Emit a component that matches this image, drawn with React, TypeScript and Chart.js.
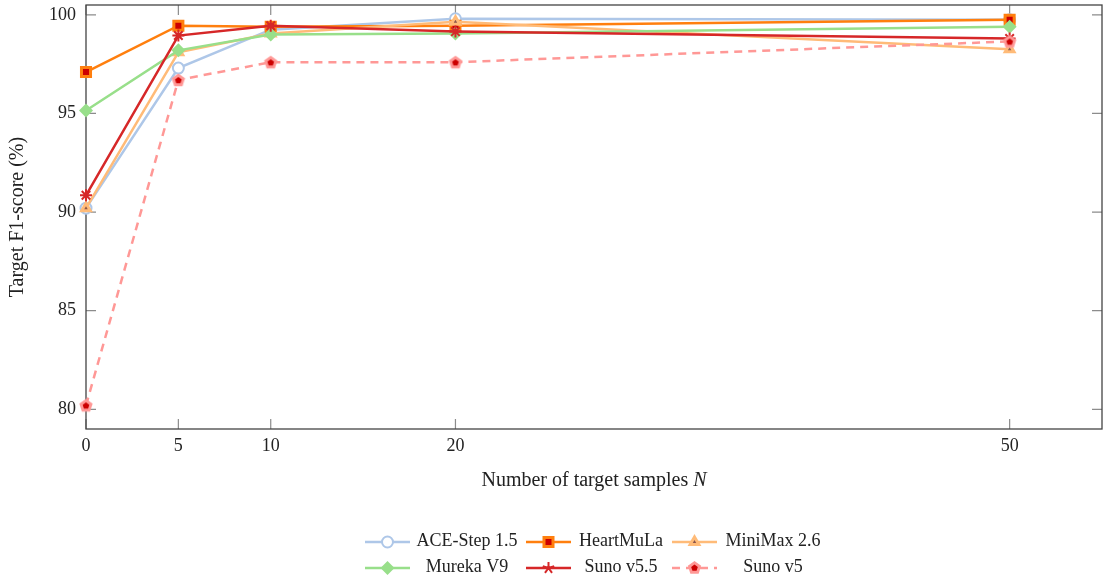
import React, { useEffect, useRef } from "react";
import { Chart, registerables } from "chart.js";
Chart.register(...registerables);

const xValues = [0, 5, 10, 20, 50];
const xTicks = [0, 5, 10, 20, 50];
const yTicks = [80, 85, 90, 95, 100];
const seriesNames = ["ACE-Step 1.5", "HeartMuLa", "MiniMax 2.6", "Mureka V9", "Suno v5.5", "Suno v5"];
const aceStep = [90.2, 97.3, 99.25, 99.8, 99.75];
const heartMuLa = [97.1, 99.45, 99.4, 99.45, 99.75];
const miniMax = [90.2, 98.1, 99.05, 99.65, 98.25];
const mureka = [95.15, 98.2, 99.0, 99.05, 99.4];
const sunoV55 = [90.85, 98.95, 99.45, 99.15, 98.8];
const sunoV5 = [80.2, 96.7, 97.6, 97.6, 98.65];
const xTitle = "Number of target samples ";
const xTitleVar = "N";
const yTitle = "Target F1-score (%)";

const FONT = '"Liberation Serif", "DejaVu Serif", serif';
const lineColors = ["#aec7e8", "#ff7f0e", "#ffbb78", "#98df8a", "#d62728", "#ff9896"];
const markerKinds = ["circle", "square", "triangle", "diamond", "star", "pentagon"];

function pentagonPath(ctx: CanvasRenderingContext2D, cx: number, cy: number, r: number) {
  ctx.beginPath();
  for (let i = 0; i < 5; i++) {
    const a = -Math.PI / 2 + (i * 2 * Math.PI) / 5;
    const px = cx + r * Math.cos(a);
    const py = cy + r * Math.sin(a);
    if (i === 0) ctx.moveTo(px, py);
    else ctx.lineTo(px, py);
  }
  ctx.closePath();
}

function drawMarker(ctx: CanvasRenderingContext2D, kind: string, x: number, y: number) {
  ctx.save();
  ctx.setLineDash([]);
  if (kind === "circle") {
    ctx.beginPath();
    ctx.arc(x, y, 5.5, 0, Math.PI * 2);
    ctx.fillStyle = "#ffffff";
    ctx.fill();
    ctx.lineWidth = 2;
    ctx.strokeStyle = "#aec7e8";
    ctx.stroke();
  } else if (kind === "square") {
    ctx.fillStyle = "#cc0000";
    ctx.strokeStyle = "#ff7f0e";
    ctx.lineWidth = 3;
    ctx.beginPath();
    ctx.rect(x - 4.5, y - 4.5, 9, 9);
    ctx.fill();
    ctx.stroke();
  } else if (kind === "triangle") {
    ctx.beginPath();
    for (let i = 0; i < 3; i++) {
      const a = -Math.PI / 2 + (i * 2 * Math.PI) / 3;
      const px = x + 5 * Math.cos(a);
      const py = y + 5 * Math.sin(a);
      if (i === 0) ctx.moveTo(px, py);
      else ctx.lineTo(px, py);
    }
    ctx.closePath();
    ctx.fillStyle = "#8c564b";
    ctx.strokeStyle = "#ffbb78";
    ctx.lineWidth = 3;
    ctx.fill();
    ctx.stroke();
  } else if (kind === "diamond") {
    ctx.beginPath();
    ctx.moveTo(x, y - 7);
    ctx.lineTo(x + 7, y);
    ctx.lineTo(x, y + 7);
    ctx.lineTo(x - 7, y);
    ctx.closePath();
    ctx.fillStyle = "#98df8a";
    ctx.fill();
  } else if (kind === "star") {
    ctx.strokeStyle = "#d62728";
    ctx.lineWidth = 2;
    ctx.beginPath();
    for (let i = 0; i < 5; i++) {
      const a = -Math.PI / 2 + (i * 2 * Math.PI) / 5;
      ctx.moveTo(x, y);
      ctx.lineTo(x + 6 * Math.cos(a), y + 6 * Math.sin(a));
    }
    ctx.stroke();
  } else if (kind === "pentagon") {
    pentagonPath(ctx, x, y, 7);
    ctx.fillStyle = "#ff9896";
    ctx.fill();
    pentagonPath(ctx, x, y, 3.5);
    ctx.fillStyle = "#cc0000";
    ctx.fill();
  }
  ctx.restore();
}

function makeImage(kind: string): HTMLCanvasElement {
  const c = document.createElement("canvas");
  c.width = 18;
  c.height = 18;
  const ctx = c.getContext("2d")!;
  drawMarker(ctx, kind, 9, 9.5);
  return c;
}

const framePlugin = {
  id: "frame",
  beforeDatasetsDraw(chart: any) {
    const { ctx, chartArea: a, scales } = chart;
    ctx.save();
    ctx.strokeStyle = "#8c8c8c";
    ctx.lineWidth = 1.2;
    ctx.beginPath();
    for (const v of xTicks) {
      const px = scales.x.getPixelForValue(v);
      ctx.moveTo(px, a.bottom);
      ctx.lineTo(px, a.bottom - 10);
      ctx.moveTo(px, a.top);
      ctx.lineTo(px, a.top + 10);
    }
    for (const v of yTicks) {
      const py = scales.y.getPixelForValue(v);
      ctx.moveTo(a.left, py);
      ctx.lineTo(a.left + 10, py);
      ctx.moveTo(a.right, py);
      ctx.lineTo(a.right - 10, py);
    }
    ctx.stroke();
    ctx.strokeStyle = "#444444";
    ctx.lineWidth = 1.3;
    ctx.strokeRect(a.left, a.top, a.right - a.left, a.bottom - a.top);
    ctx.fillStyle = "#222222";
    ctx.font = `18px ${FONT}`;
    ctx.textBaseline = "middle";
    ctx.textAlign = "center";
    for (const v of xTicks) {
      ctx.fillText(String(v), scales.x.getPixelForValue(v), a.bottom + 17);
    }
    ctx.textAlign = "right";
    for (const v of yTicks) {
      ctx.fillText(String(v), a.left - 10, scales.y.getPixelForValue(v));
    }
    ctx.restore();
  },
  afterDraw(chart: any) {
    const { ctx, chartArea: a } = chart;
    ctx.save();
    ctx.fillStyle = "#222222";
    ctx.textBaseline = "middle";
    ctx.font = `20px ${FONT}`;
    const w1 = ctx.measureText(xTitle).width;
    ctx.font = `italic 20px ${FONT}`;
    const w2 = ctx.measureText(xTitleVar).width;
    const cx = (a.left + a.right) / 2;
    const sx = cx - (w1 + w2) / 2;
    ctx.textAlign = "left";
    ctx.font = `20px ${FONT}`;
    ctx.fillText(xTitle, sx, 481);
    ctx.font = `italic 20px ${FONT}`;
    ctx.fillText(xTitleVar, sx + w1, 481);
    ctx.save();
    ctx.translate(18, (a.top + a.bottom) / 2);
    ctx.rotate(-Math.PI / 2);
    ctx.textAlign = "center";
    ctx.font = `20px ${FONT}`;
    ctx.fillText(yTitle, 0, 0);
    ctx.restore();
    const lineStarts = [365, 526, 672];
    const textCenters = [467, 621, 773];
    const rows = [541, 567];
    ctx.font = `18px ${FONT}`;
    ctx.textAlign = "center";
    seriesNames.forEach((name, i) => {
      const col = i % 3;
      const row = Math.floor(i / 3);
      const y = rows[row];
      const x0 = lineStarts[col];
      ctx.save();
      ctx.strokeStyle = lineColors[i];
      ctx.lineWidth = 2.5;
      if (i === 5) ctx.setLineDash([8, 6]);
      ctx.beginPath();
      ctx.moveTo(x0, y + 1);
      ctx.lineTo(x0 + 45, y + 1);
      ctx.stroke();
      ctx.restore();
      drawMarker(ctx, markerKinds[i], x0 + 22.5, y + 1);
      ctx.fillStyle = "#222222";
      ctx.fillText(name, textCenters[col], y);
    });
    ctx.restore();
  },
};

export default function App() {
  const ref = useRef<HTMLCanvasElement | null>(null);
  useEffect(() => {
    if (!ref.current) return;
    const pent = makeImage("pentagon");
    const seriesValues = [aceStep, heartMuLa, miniMax, mureka, sunoV55, sunoV5];
    const pointStyles: any[] = ["circle", "rect", "triangle", "rectRot", "star", pent];
    const pointBg = ["#ffffff", "#cc0000", "#8c564b", "#98df8a", "#d62728", "#ff9896"];
    const pointRadius = [5.5, 6.4, 5, 7, 6, 7];
    const pointBorderW = [2, 3, 3, 0, 2, 0];
    const datasets = seriesNames.map((name, i) => ({
      label: name,
      data: xValues.map((x, j) => ({ x, y: seriesValues[i][j] })),
      borderColor: lineColors[i],
      backgroundColor: lineColors[i],
      borderWidth: 2.5,
      borderDash: i === 5 ? [8, 6] : [],
      pointStyle: pointStyles[i],
      pointRadius: pointRadius[i],
      pointBackgroundColor: pointBg[i],
      pointBorderColor: lineColors[i],
      pointBorderWidth: pointBorderW[i],
      tension: 0,
      clip: false as any,
      order: 6 - i,
    }));
    const chart = new Chart(ref.current, {
      type: "line",
      data: { datasets },
      options: {
        animation: false,
        responsive: false,
        layout: { autoPadding: false, padding: { top: 5, right: 1, left: 0, bottom: 0 } },
        plugins: { legend: { display: false }, tooltip: { enabled: false } },
        scales: {
          x: {
            type: "linear",
            min: 0,
            max: 55,
            grid: { display: false, drawTicks: false },
            border: { display: false },
            afterBuildTicks: (s: any) => {
              s.ticks = xTicks.map((v) => ({ value: v }));
            },
            afterFit: (s: any) => {
              s.height = 146;
            },
            ticks: { display: false },
          },
          y: {
            type: "linear",
            min: 79,
            max: 100.5,
            grid: { display: false, drawTicks: false },
            border: { display: false },
            afterBuildTicks: (s: any) => {
              s.ticks = yTicks.map((v) => ({ value: v }));
            },
            afterFit: (s: any) => {
              s.width = 86;
            },
            ticks: { display: false },
          },
        },
      } as any,
      plugins: [framePlugin],
    });
    return () => chart.destroy();
  }, []);
  return (
    <div style={{ position: "fixed", left: 0, top: 0, width: 1103, height: 575, background: "#fff" }}>
      <canvas ref={ref} width={1103} height={575} style={{ width: 1103, height: 575, display: "block" }} />
    </div>
  );
}
